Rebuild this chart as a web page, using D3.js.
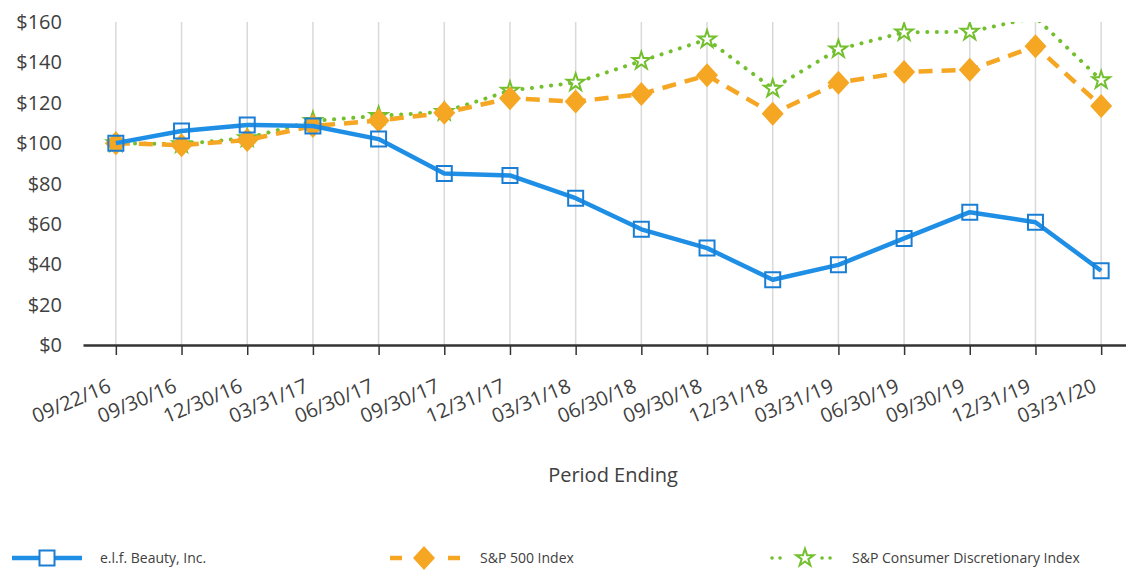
<!DOCTYPE html>
<html>
<head>
<meta charset="utf-8">
<script src="https://cdn.jsdelivr.net/npm/d3@7"></script>
<style>
  body { margin: 0; background: #fff; }
  text { font-family: "Open Sans", "Noto Sans", sans-serif; fill: #404040; }
</style>
</head>
<body>
<div class="content"></div>
<script>
//--> Data
const periods = ["09/22/16", "09/30/16", "12/30/16", "03/31/17", "06/30/17", "09/30/17",
  "12/31/17", "03/31/18", "06/30/18", "09/30/18", "12/31/18", "03/31/19",
  "06/30/19", "09/30/19", "12/31/19", "03/31/20"];
const elfValues = [100, 106, 109, 108.5, 102, 85, 84, 72.7, 57.3, 48, 32.3, 39.7, 52.8, 65.8, 60.8, 36.8];
const sp500Values = [100, 99, 101.5, 108.5, 111.2, 115, 122.2, 120.6, 124.3, 133.6, 114.6, 129.9, 135.2, 136.3, 148, 118.4];
const consDiscValues = [100, 99.5, 102.5, 111, 113.5, 115.5, 126, 130, 140.7, 151.4, 127, 146.5, 154.9, 155.2, 162.3, 131.2];
const yTicks = [0, 20, 40, 60, 80, 100, 120, 140, 160];
const seriesNames = ["e.l.f. Beauty, Inc.", "S&P 500 Index", "S&P Consumer Discretionary Index"];

//--> Constants
const width = 1126;
const height = 571;
const plot = { left: 83, right: 1134, top: 22, bottom: 345 };
const blue = "#1f8fe6";
const orange = "#f5a623";
const green = "#73bf2e";

const svg = d3.select(".content").append("svg")
  .attr("width", width)
  .attr("height", height);

const x = d3.scalePoint().domain(periods).range([plot.left, plot.right]).padding(0.5);
const y = d3.scaleLinear().domain([0, 160]).range([plot.bottom, plot.top]);

svg.append("defs").append("clipPath").attr("id", "plot-clip")
  .append("rect")
  .attr("x", 0).attr("y", plot.top)
  .attr("width", width).attr("height", height - plot.top);

//--> Vertical grid
svg.append("g")
  .selectAll("line")
  .data(periods)
  .enter()
  .append("line")
  .attr("x1", d => x(d)).attr("x2", d => x(d))
  .attr("y1", plot.top).attr("y2", plot.bottom)
  .attr("stroke", "#d9d9d9")
  .attr("stroke-width", 1.5);

//--> Y labels
svg.append("g")
  .selectAll("text")
  .data(yTicks)
  .enter()
  .append("text")
  .attr("x", 62)
  .attr("y", d => y(d))
  .attr("dy", "0.35em")
  .attr("text-anchor", "end")
  .attr("font-size", "20px")
  .text(d => "$" + d);

//--> X axis
const xAxis = svg.append("g")
  .attr("transform", `translate(0, ${plot.bottom})`)
  .call(d3.axisBottom(x).tickSize(10).tickSizeOuter(0));
xAxis.select(".domain").attr("stroke", "#333").attr("stroke-width", 2.5);
xAxis.selectAll(".tick line").attr("stroke", "#333").attr("stroke-width", 1.5);
xAxis.selectAll(".tick text")
  .attr("font-size", "20px")
  .attr("font-family", "'Open Sans', sans-serif")
  .attr("fill", "#404040")
  .attr("text-anchor", "end")
  .attr("y", 0).attr("dy", 0)
  .attr("transform", "translate(-4, 46) rotate(-23)");

svg.append("text")
  .attr("x", 613)
  .attr("y", 482)
  .attr("text-anchor", "middle")
  .attr("font-size", "20px")
  .text("Period Ending");

//--> Series
const line = d3.line().x((d, i) => x(periods[i])).y(d => y(d));
const chart = svg.append("g").attr("clip-path", "url(#plot-clip)");

const square = d3.symbol().type(d3.symbolSquare).size(225);
const star = d3.symbol().type(d3.symbolStar).size(95);
const diamond = "M0,-12L11,0L0,12L-11,0Z";

// green (bottom)
chart.append("path")
  .attr("d", line(consDiscValues))
  .attr("fill", "none")
  .attr("stroke", green)
  .attr("stroke-width", 4)
  .attr("stroke-linecap", "round")
  .attr("stroke-dasharray", "0.1 9.5");
chart.append("g")
  .selectAll("path")
  .data(consDiscValues.map((v, i) => ({ v, p: periods[i] })).filter(d => d.v <= 160))
  .enter()
  .append("path")
  .attr("d", star())
  .attr("transform", d => `translate(${x(d.p)}, ${y(d.v)})`)
  .attr("fill", "#fff")
  .attr("stroke", green)
  .attr("stroke-width", 2);

// orange
chart.append("path")
  .attr("d", line(sp500Values))
  .attr("fill", "none")
  .attr("stroke", orange)
  .attr("stroke-width", 4.5)
  .attr("stroke-dasharray", "14 9");
chart.append("g")
  .selectAll("path")
  .data(sp500Values)
  .enter()
  .append("path")
  .attr("d", diamond)
  .attr("transform", (d, i) => `translate(${x(periods[i])}, ${y(d)})`)
  .attr("fill", orange);

// blue (top)
chart.append("path")
  .attr("d", line(elfValues))
  .attr("fill", "none")
  .attr("stroke", blue)
  .attr("stroke-width", 4.5)
  .attr("stroke-linejoin", "round");
chart.append("g")
  .selectAll("path")
  .data(elfValues)
  .enter()
  .append("path")
  .attr("d", square())
  .attr("transform", (d, i) => `translate(${x(periods[i])}, ${y(d)})`)
  .attr("fill", "none")
  .attr("stroke", "#1a7fd4")
  .attr("stroke-width", 2);

//--> Legend
const ly = 558;
const legend = svg.append("g").attr("id", "legend");

legend.append("line")
  .attr("x1", 12).attr("x2", 82).attr("y1", ly).attr("y2", ly)
  .attr("stroke", blue).attr("stroke-width", 4.5);
legend.append("path")
  .attr("d", square())
  .attr("transform", `translate(47, ${ly})`)
  .attr("fill", "#fff").attr("stroke", "#1a7fd4").attr("stroke-width", 2);

legend.append("line")
  .attr("x1", 390).attr("x2", 460).attr("y1", ly).attr("y2", ly)
  .attr("stroke", orange).attr("stroke-width", 4.5)
  .attr("stroke-dasharray", "12 46");
legend.append("path")
  .attr("d", diamond)
  .attr("transform", `translate(424, ${ly})`)
  .attr("fill", orange);

// three dots either side of the star
[[772, 788], [822, 838]].forEach(([a, b]) => {
  legend.append("line")
    .attr("x1", a).attr("x2", b).attr("y1", ly).attr("y2", ly)
    .attr("stroke", green).attr("stroke-width", 3.5)
    .attr("stroke-linecap", "round")
    .attr("stroke-dasharray", "0.1 7.9");
});
legend.append("path")
  .attr("d", star())
  .attr("transform", `translate(805, ${ly})`)
  .attr("fill", "#fff").attr("stroke", green).attr("stroke-width", 2);

legend.selectAll("text")
  .data(seriesNames)
  .enter()
  .append("text")
  .attr("x", (d, i) => [100, 480, 852][i])
  .attr("y", ly)
  .attr("dy", "0.35em")
  .attr("font-size", "14px")
  .text(d => d);
</script>
</body>
</html>
